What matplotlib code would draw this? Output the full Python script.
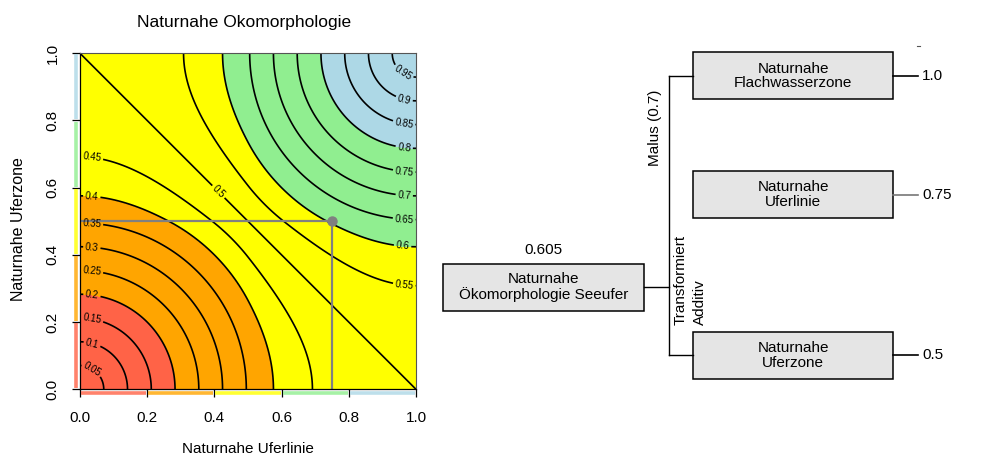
import numpy as np
import matplotlib
matplotlib.use("Agg")
import matplotlib.pyplot as plt
from matplotlib.patches import Rectangle

plt.rcParams['font.family'] = ['Liberation Sans', 'DejaVu Sans']

# ---- data ----
class_breaks = [0.0, 0.2, 0.4, 0.6, 0.8, 1.0]
class_colors = ['#FF6347', '#FFA500', '#FFFF00', '#90EE90', '#ADD8E6']
contour_levels = [0.05, 0.1, 0.15, 0.2, 0.25, 0.3, 0.35, 0.4, 0.45, 0.5,
                  0.55, 0.6, 0.65, 0.7, 0.75, 0.8, 0.85, 0.9, 0.95]
weights = [0.5, 0.5]          # Uferlinie, Uferzone
point_x = 0.75                # Naturnahe Uferlinie
point_y = 0.5                 # Naturnahe Uferzone
ticks = [0.0, 0.2, 0.4, 0.6, 0.8, 1.0]
tick_labels = ['0.0', '0.2', '0.4', '0.6', '0.8', '1.0']

root_name = 'Naturnahe\nÖkomorphologie Seeufer'
root_value = '0.605'
child_names = ['Naturnahe\nFlachwasserzone', 'Naturnahe\nUferlinie', 'Naturnahe\nUferzone']
child_values = ['1.0', '0.75', '0.5']
child_linecolors = ['black', '#777777', 'black']
agg_labels = ['Malus (0.7)', 'Transformiert', 'Additiv']


# transformed additive aggregation (split power transform)
def g(u):
    return np.where(u <= 0.5, 2 * u**2, 1 - 2 * (1 - u)**2)


def g_inv(v):
    return np.where(v <= 0.5, np.sqrt(np.clip(v, 0, None) / 2),
                    1 - np.sqrt(np.clip(1 - v, 0, None) / 2))


fig = plt.figure(figsize=(9.9, 4.57), dpi=100)
W, H = 990, 457

# ---- contour panel ----
ax = fig.add_axes([80 / W, 1 - 389.3 / H, 336 / W, 336 / H])
grid = np.linspace(0, 1, 501)
X, Y = np.meshgrid(grid, grid)
U = g_inv(weights[0] * g(X) + weights[1] * g(Y))

ax.contourf(X, Y, U, levels=class_breaks, colors=class_colors)
cs = ax.contour(X, Y, U, levels=contour_levels, colors='black', linewidths=1.2)

label_pos = [(0.03, 0.05), (0.035, 0.132), (0.035, 0.203), (0.035, 0.276),
             (0.035, 0.348), (0.035, 0.42), (0.035, 0.491), (0.035, 0.573),
             (0.035, 0.687), (0.407, 0.583),
             (0.965, 0.31), (0.96, 0.426), (0.965, 0.508), (0.965, 0.577),
             (0.965, 0.649), (0.965, 0.72), (0.965, 0.795), (0.965, 0.864),
             (0.96, 0.94)]
ax.clabel(cs, fmt='%g', fontsize=7, inline=True, inline_spacing=2,
          manual=label_pos)

ax.plot([0, point_x], [point_y, point_y], color='#808080', lw=1.6)
ax.plot([point_x, point_x], [0, point_y], color='#808080', lw=1.6)
ax.plot(point_x, point_y, 'o', color='#808080', ms=6.5)

# class strips along the axes
for i, c in enumerate(class_colors):
    ax.plot([class_breaks[i] + 0.003, class_breaks[i + 1] - 0.003], [-0.011, -0.011],
            color=c, lw=2.6, clip_on=False, alpha=0.8, solid_capstyle='butt')
    ax.plot([-0.011, -0.011], [class_breaks[i] + 0.003, class_breaks[i + 1] - 0.003],
            color=c, lw=2.6, clip_on=False, alpha=0.8, solid_capstyle='butt')

ax.set_xlim(0, 1)
ax.set_ylim(0, 1)
ax.set_xticks(ticks)
ax.set_xticklabels(tick_labels, fontsize=11)
ax.set_yticks(ticks)
ax.set_yticklabels(tick_labels, fontsize=11, rotation=90, va='center')
ax.tick_params(axis='x', length=6, width=0.9, pad=9.5)
ax.tick_params(axis='y', length=6, width=0.9, pad=8.5)
for s in ['top', 'right']:
    ax.spines[s].set_color('#555555')
ax.spines['left'].set_linewidth(0.9)
ax.spines['bottom'].set_linewidth(0.9)

fig.text(244 / W, 1 - 22 / H, 'Naturnahe Okomorphologie', ha='center', va='center', fontsize=12.5)
fig.text(248 / W, 1 - 449 / H, 'Naturnahe Uferlinie', ha='center', va='center', fontsize=11)
fig.text(19 / W, 1 - 229 / H, 'Naturnahe Uferzone', ha='center', va='center',
         fontsize=11.5, rotation=90)

# ---- hierarchy panel ----
tx = fig.add_axes([0, 0, 1, 1], facecolor='none')
tx.set_xlim(0, W)
tx.set_ylim(H, 0)
tx.axis('off')

box_h = 47
root_box = (443.3, 644, 287)
child_x0, child_x1 = 693.3, 893.3
child_cy = [75.8, 194.7, 355.3]
join_x = 669

tx.add_patch(Rectangle((root_box[0], root_box[2] - box_h / 2), root_box[1] - root_box[0], box_h,
                       facecolor='#E5E5E5', edgecolor='black', lw=1.1))
tx.text((root_box[0] + root_box[1]) / 2, root_box[2], root_name, ha='center', va='center',
        fontsize=11, linespacing=1.05)
tx.text((root_box[0] + root_box[1]) / 2, 250.5, root_value, ha='center', va='center', fontsize=11)

tx.plot([root_box[1], join_x], [root_box[2], root_box[2]], color='black', lw=1)
tx.plot([join_x, join_x], [child_cy[0], child_cy[2]], color='black', lw=1)
for i, name in enumerate(child_names):
    cy = child_cy[i]
    tx.add_patch(Rectangle((child_x0, cy - box_h / 2), child_x1 - child_x0, box_h,
                           facecolor='#E5E5E5', edgecolor='black', lw=1.1))
    tx.text((child_x0 + child_x1) / 2, cy, name, ha='center', va='center',
            fontsize=11, linespacing=1.05)
    if i != 1:
        tx.plot([join_x, child_x0], [cy, cy], color='black', lw=1)
    tx.plot([child_x1, 918.3], [cy, cy], color=child_linecolors[i], lw=1.2)
    tx.text(922, cy, child_values[i], ha='left', va='center', fontsize=11)

tx.plot([916.5, 919.5], [45.7, 45.7], color='#555555', lw=0.8)

tx.text(655, 128.3, agg_labels[0], ha='center', va='center', rotation=90, fontsize=11)
tx.text(681, 325, agg_labels[1], ha='center', va='bottom', rotation=90, fontsize=11)
tx.text(699.5, 325, agg_labels[2], ha='center', va='bottom', rotation=90, fontsize=11)

fig.savefig('out.png', dpi=100)
